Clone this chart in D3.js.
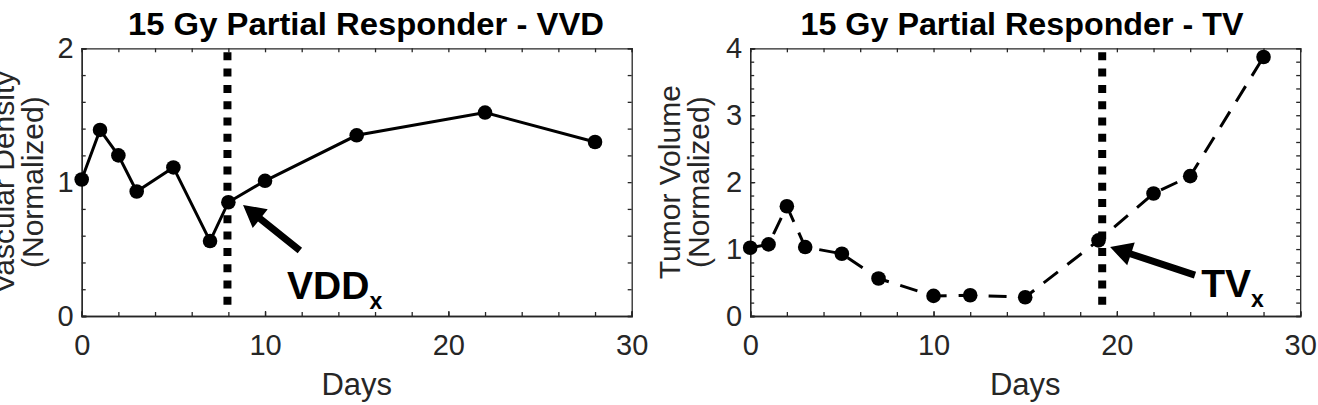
<!DOCTYPE html>
<html>
<head>
<meta charset="UTF-8">
<style>
  body { margin: 0; background: #fff; }
  text { font-family: "Liberation Sans", Arial, sans-serif; }
  .axis path, .axis line { stroke: #262626; stroke-width: 1.3; }
  .axis text { fill: #262626; font-size: 29px; }
  .ylab { fill: #262626; font-size: 30px; }
  .title { font-weight: bold; font-size: 31px; fill: #000; }
  .note { font-weight: bold; font-size: 39px; fill: #000; }
</style>
</head>
<body>
<script src="https://cdn.jsdelivr.net/npm/d3@7"></script>
<script>
// left panel: vascular density
var daysVVD = [0, 1, 2, 3, 5, 7, 8, 10, 15, 22, 28];
var vvd = [1.02, 1.39, 1.20, 0.93, 1.11, 0.56, 0.85, 1.01, 1.35, 1.52, 1.30];
// right panel: tumor volume
var daysTV = [0, 1, 2, 3, 5, 7, 10, 12, 15, 19, 22, 24, 28];
var tv = [1.02, 1.07, 1.64, 1.03, 0.93, 0.56, 0.30, 0.31, 0.28, 1.13, 1.83, 2.09, 3.87];

var xTicks = [0, 10, 20, 30];
var yTicksVVD = [0, 1, 2];
var yTicksTV = [0, 1, 2, 3, 4];
var titles = ["15 Gy Partial Responder - VVD", "15 Gy Partial Responder - TV"];
var yLabels = [["Vascular Density", "(Normalized)"], ["Tumor Volume", "(Normalized)"]];
var crossDay = [7.95, 19.2];
var noteText = ["VDD", "TV"];
// arrow tail/tip and label anchor, in data units
var arrowTail = [[11.9, 0.49], [24.26, 0.61]];
var arrowTip = [[8.8, 0.83], [19.63, 1.03]];
var noteAt = [[11.2, 0.13], [24.6, 0.29]];

var W = 1318, H = 405;
var plotTop = 48.3, plotBottom = 316, pw = 550;
var lefts = [81.7, 750.2];
var titleCenter = [366, 1022];
var titleWidth = [476, 443];
var ylabelBase = [[14, 43], [680, 709]];

var svg = d3.select("body").append("svg").attr("width", W).attr("height", H);

var panels = [
  { x: daysVVD, y: vvd, ymax: 2, yt: yTicksVVD, dash: null },
  { x: daysTV, y: tv, ymax: 4, yt: yTicksTV, dash: "18,12" }
];

panels.forEach(function (p, i) {
  var L = lefts[i];
  var x = d3.scaleLinear().domain([0, 30]).range([L, L + pw]);
  var y = d3.scaleLinear().domain([0, p.ymax]).range([plotBottom, plotTop]);
  var g = svg.append("g");

  var xMinor = d3.range(0, 31, 2);
  var yMinor = d3.range(0, p.ymax * 5 + 1).map(function (k) { return k / 5; });

  // minor ticks on all four sides, pointing inward
  g.append("g").attr("class", "axis").attr("transform", "translate(0," + plotBottom + ")")
    .call(d3.axisBottom(x).tickValues(xMinor).tickSize(-4).tickFormat(""));
  g.append("g").attr("class", "axis").attr("transform", "translate(0," + plotTop + ")")
    .call(d3.axisTop(x).tickValues(xMinor).tickSize(-4).tickFormat(""));
  g.append("g").attr("class", "axis").attr("transform", "translate(" + L + ",0)")
    .call(d3.axisLeft(y).tickValues(yMinor).tickSize(-4).tickFormat(""));
  g.append("g").attr("class", "axis").attr("transform", "translate(" + (L + pw) + ",0)")
    .call(d3.axisRight(y).tickValues(yMinor).tickSize(-4).tickFormat(""));

  // labelled major ticks
  g.append("g").attr("class", "axis").attr("transform", "translate(0," + plotBottom + ")")
    .call(d3.axisBottom(x).tickValues(xTicks).tickSize(-5).tickPadding(18).tickFormat(d3.format("d")));
  g.append("g").attr("class", "axis").attr("transform", "translate(" + L + ",0)")
    .call(d3.axisLeft(y).tickValues(p.yt).tickSize(-5).tickPadding(8).tickFormat(d3.format("d")));
  g.selectAll(".axis .domain").attr("fill", "none");

  // vertical dotted marker
  g.append("line")
    .attr("x1", x(crossDay[i])).attr("x2", x(crossDay[i]))
    .attr("y1", y(p.ymax * 0.985)).attr("y2", y(p.ymax * 0.035))
    .attr("stroke", "#000").attr("stroke-width", 8)
    .attr("stroke-dasharray", "8,8.3");

  var pts = p.x.map(function (d, k) { return [d, p.y[k]]; });
  var line = d3.line().x(function (d) { return x(d[0]); }).y(function (d) { return y(d[1]); });
  g.append("path").datum(pts).attr("d", line)
    .attr("fill", "none").attr("stroke", "#000").attr("stroke-width", 3)
    .attr("stroke-dasharray", p.dash);
  g.selectAll("circle.pt").data(pts).enter().append("circle")
    .attr("cx", function (d) { return x(d[0]); })
    .attr("cy", function (d) { return y(d[1]); })
    .attr("r", 7.3).attr("fill", "#000");

  // arrow
  var t0 = [x(arrowTail[i][0]), y(arrowTail[i][1])];
  var t1 = [x(arrowTip[i][0]), y(arrowTip[i][1])];
  var dx = t1[0] - t0[0], dy = t1[1] - t0[1];
  var len = Math.sqrt(dx * dx + dy * dy);
  var ux = dx / len, uy = dy / len, nx = -uy, ny = ux;
  var hl = 22, hw = 12, sw = 3.5;
  var bx = t1[0] - ux * hl, by = t1[1] - uy * hl;
  var poly = [
    [t0[0] + nx * sw, t0[1] + ny * sw],
    [bx + nx * sw, by + ny * sw],
    [bx + nx * hw, by + ny * hw],
    t1,
    [bx - nx * hw, by - ny * hw],
    [bx - nx * sw, by - ny * sw],
    [t0[0] - nx * sw, t0[1] - ny * sw]
  ];
  g.append("polygon").attr("points", poly.map(function (q) { return q.join(","); }).join(" "))
    .attr("fill", "#000");

  var nt = g.append("text").attr("class", "note")
    .attr("x", x(noteAt[i][0])).attr("y", y(noteAt[i][1]));
  nt.append("tspan").text(noteText[i]);
  nt.append("tspan").attr("dy", 10).attr("font-size", 23).text("x");

  // title
  g.append("text").attr("class", "title")
    .attr("x", titleCenter[i]).attr("y", 35)
    .attr("text-anchor", "middle")
    .attr("textLength", titleWidth[i]).attr("lengthAdjust", "spacingAndGlyphs")
    .text(titles[i]);

  // x label
  g.append("text").attr("class", "ylab")
    .attr("x", L + pw / 2).attr("y", 395)
    .style("font-size", "31px")
    .attr("text-anchor", "middle").text("Days");

  // y label (two lines)
  var cy = (plotTop + plotBottom) / 2;
  yLabels[i].forEach(function (s, k) {
    g.append("text").attr("class", "ylab")
      .attr("transform", "translate(" + ylabelBase[i][k] + "," + cy + ") rotate(-90)")
      .attr("text-anchor", "middle").text(s);
  });
});
</script>
</body>
</html>
